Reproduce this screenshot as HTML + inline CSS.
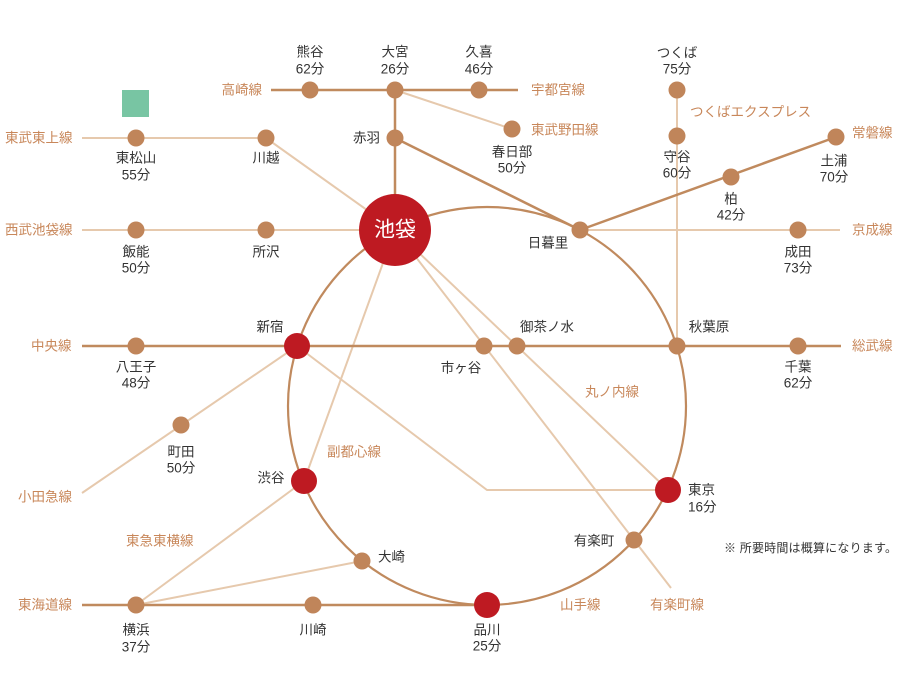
<!DOCTYPE html>
<html><head><meta charset="utf-8"><style>
html,body{margin:0;padding:0;background:#fff;}
svg{display:block;}
text{font-family:"Liberation Sans","Noto Sans CJK JP",sans-serif;}
.s{font-size:13.5px;fill:#333;text-anchor:middle;dominant-baseline:central;}
.sl{font-size:13.5px;fill:#333;text-anchor:start;dominant-baseline:central;}
.se{font-size:13.5px;fill:#333;text-anchor:end;dominant-baseline:central;}
.l{font-size:13.5px;fill:#c8875a;dominant-baseline:central;}
.d{stroke:#c08a5e;stroke-width:2.5;fill:none;}
.w{stroke:#e6c9ad;stroke-width:2;fill:none;}
.n{fill:#c0855a;}
.r{fill:#be1a22;}
</style></head><body>
<svg width="900" height="700" viewBox="0 0 900 700" xmlns="http://www.w3.org/2000/svg">
<!-- light lines -->
<line class="w" x1="82" y1="138" x2="266" y2="138"/>
<line class="w" x1="266" y1="138" x2="395" y2="230"/>
<line class="w" x1="82" y1="230" x2="395" y2="230"/>
<line class="w" x1="395" y1="90" x2="512" y2="129"/>
<line class="w" x1="580" y1="230" x2="840" y2="230"/>
<line class="w" x1="677" y1="90" x2="677" y2="346"/>
<line class="w" x1="297" y1="346" x2="82" y2="493"/>
<polyline class="w" points="395,230 668,490 487,490 297,346"/>
<line class="w" x1="395" y1="230" x2="671" y2="588"/>
<line class="w" x1="395" y1="230" x2="304" y2="481"/>
<line class="w" x1="304" y1="481" x2="136" y2="605"/>
<line class="w" x1="136" y1="605" x2="362" y2="561"/>
<!-- dark lines -->
<circle class="d" cx="487" cy="406" r="199" style="stroke-width:2.2"/>
<line class="d" x1="271" y1="90" x2="518" y2="90"/>
<line class="d" x1="395" y1="90" x2="395" y2="230"/>
<line class="d" x1="395" y1="138" x2="580" y2="230"/>
<line class="d" x1="580" y1="230" x2="836" y2="137"/>
<line class="d" x1="82" y1="346" x2="841" y2="346"/>
<line class="d" x1="82" y1="605" x2="487" y2="605"/>
<!-- green square -->
<rect x="122" y="90" width="27" height="27" fill="#78c5a3"/>
<!-- nodes -->
<circle class="n" cx="310" cy="90" r="8.5"/>
<circle class="n" cx="395" cy="90" r="8.5"/>
<circle class="n" cx="479" cy="90" r="8.5"/>
<circle class="n" cx="395" cy="138" r="8.5"/>
<circle class="n" cx="512" cy="129" r="8.5"/>
<circle class="n" cx="136" cy="138" r="8.5"/>
<circle class="n" cx="266" cy="138" r="8.5"/>
<circle class="n" cx="136" cy="230" r="8.5"/>
<circle class="n" cx="266" cy="230" r="8.5"/>
<circle class="n" cx="580" cy="230" r="8.5"/>
<circle class="n" cx="677" cy="90" r="8.5"/>
<circle class="n" cx="677" cy="136" r="8.5"/>
<circle class="n" cx="731" cy="177" r="8.5"/>
<circle class="n" cx="836" cy="137" r="8.5"/>
<circle class="n" cx="798" cy="230" r="8.5"/>
<circle class="n" cx="136" cy="346" r="8.5"/>
<circle class="n" cx="484" cy="346" r="8.5"/>
<circle class="n" cx="517" cy="346" r="8.5"/>
<circle class="n" cx="677" cy="346" r="8.5"/>
<circle class="n" cx="798" cy="346" r="8.5"/>
<circle class="n" cx="181" cy="425" r="8.5"/>
<circle class="n" cx="362" cy="561" r="8.5"/>
<circle class="n" cx="634" cy="540" r="8.5"/>
<circle class="n" cx="136" cy="605" r="8.5"/>
<circle class="n" cx="313" cy="605" r="8.5"/>
<circle class="r" cx="297" cy="346" r="13"/>
<circle class="r" cx="304" cy="481" r="13"/>
<circle class="r" cx="668" cy="490" r="13"/>
<circle class="r" cx="487" cy="605" r="13"/>
<circle class="r" cx="395" cy="230" r="36"/>
<text x="395" y="230" style="font-size:21px;fill:#fff;text-anchor:middle;dominant-baseline:central;">池袋</text>
<!-- station labels -->
<text class="s" x="310" y="52">熊谷</text><text class="s" x="310" y="69">62分</text>
<text class="s" x="395" y="52">大宮</text><text class="s" x="395" y="69">26分</text>
<text class="s" x="479" y="52">久喜</text><text class="s" x="479" y="69">46分</text>
<text class="se" x="380" y="138">赤羽</text>
<text class="s" x="512" y="152">春日部</text><text class="s" x="512" y="168">50分</text>
<text class="s" x="136" y="158">東松山</text><text class="s" x="136" y="175">55分</text>
<text class="s" x="266" y="158">川越</text>
<text class="s" x="136" y="252">飯能</text><text class="s" x="136" y="268">50分</text>
<text class="s" x="266" y="252">所沢</text>
<text class="s" x="548" y="243">日暮里</text>
<text class="s" x="677" y="53">つくば</text><text class="s" x="677" y="69">75分</text>
<text class="s" x="677" y="157">守谷</text><text class="s" x="677" y="173">60分</text>
<text class="s" x="731" y="199">柏</text><text class="s" x="731" y="215">42分</text>
<text class="s" x="834" y="161">土浦</text><text class="s" x="834" y="177">70分</text>
<text class="s" x="798" y="252">成田</text><text class="s" x="798" y="268">73分</text>
<text class="s" x="270" y="327">新宿</text>
<text class="s" x="136" y="367">八王子</text><text class="s" x="136" y="383">48分</text>
<text class="s" x="461" y="368">市ヶ谷</text>
<text class="s" x="547" y="327">御茶ノ水</text>
<text class="s" x="709" y="327">秋葉原</text>
<text class="s" x="798" y="367">千葉</text><text class="s" x="798" y="383">62分</text>
<text class="s" x="181" y="452">町田</text><text class="s" x="181" y="468">50分</text>
<text class="s" x="271" y="478">渋谷</text>
<text class="sl" x="688" y="490">東京</text><text class="sl" x="688" y="507">16分</text>
<text class="sl" x="378" y="557">大崎</text>
<text class="s" x="594" y="541">有楽町</text>
<text class="s" x="136" y="630">横浜</text><text class="s" x="136" y="647">37分</text>
<text class="s" x="313" y="630">川崎</text>
<text class="s" x="487" y="630">品川</text><text class="s" x="487" y="646">25分</text>
<!-- line labels -->
<text class="l" x="262" y="90" text-anchor="end">高崎線</text>
<text class="l" x="531" y="90">宇都宮線</text>
<text class="l" x="531" y="130">東武野田線</text>
<text class="l" x="5" y="138">東武東上線</text>
<text class="l" x="5" y="230">西武池袋線</text>
<text class="l" x="690" y="112">つくばエクスプレス</text>
<text class="l" x="852" y="133">常磐線</text>
<text class="l" x="852" y="230">京成線</text>
<text class="l" x="31" y="346">中央線</text>
<text class="l" x="852" y="346">総武線</text>
<text class="l" x="585" y="392">丸ノ内線</text>
<text class="l" x="327" y="452">副都心線</text>
<text class="l" x="18" y="497">小田急線</text>
<text class="l" x="126" y="541">東急東横線</text>
<text class="l" x="18" y="605">東海道線</text>
<text class="l" x="560" y="605">山手線</text>
<text class="l" x="650" y="605">有楽町線</text>
<text x="724" y="548" textLength="173" lengthAdjust="spacing" style="font-size:12px;fill:#333;dominant-baseline:central;">※ 所要時間は概算になります。</text>
</svg>
</body></html>
